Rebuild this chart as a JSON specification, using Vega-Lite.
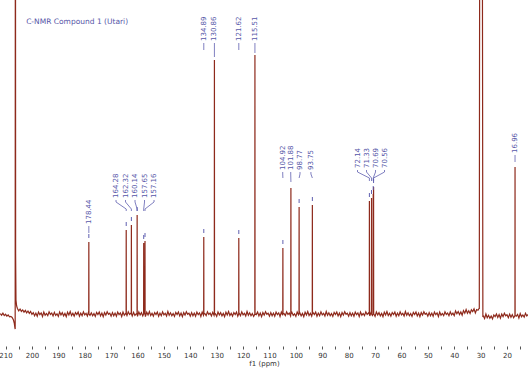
{
  "$schema": "https://vega.github.io/schema/vega-lite/v6.json",
  "width": 528,
  "height": 346,
  "autosize": {"type": "none"},
  "padding": {"left": 0, "top": 0, "right": 0, "bottom": 22},
  "background": "white",
  "config": {"view": {"stroke": null}, "axis": {"grid": false}},
  "datasets": {
    "spectrum": [
      {"ppm":212.0,"intensity":0.5},{"ppm":211.5,"intensity":-1.2},{"ppm":211.0,"intensity":0.8},{"ppm":210.5,"intensity":-1.6},{"ppm":210.0,"intensity":-0.3},{"ppm":209.5,"intensity":-2.2},{"ppm":209.0,"intensity":-1.0},{"ppm":208.5,"intensity":-2.8},{"ppm":208.0,"intensity":-2.4},{"ppm":207.5,"intensity":-3.5},{"ppm":207.0,"intensity":-6},{"ppm":206.7,"intensity":-9},{"ppm":206.45,"intensity":-14},{"ppm":206.35,"intensity":-15},{"ppm":206.26,"intensity":600},{"ppm":206.18,"intensity":60},{"ppm":206.05,"intensity":14},{"ppm":205.8,"intensity":8},{"ppm":205.5,"intensity":5.5},{"ppm":205.0,"intensity":3.2},{"ppm":204.5,"intensity":5.0},{"ppm":204.0,"intensity":2.6},{"ppm":203.5,"intensity":4.1},{"ppm":203.0,"intensity":1.9},{"ppm":202.5,"intensity":3.6},{"ppm":202.0,"intensity":1.2},{"ppm":201.5,"intensity":3.0},{"ppm":201.0,"intensity":0.6},{"ppm":200.5,"intensity":2.5},{"ppm":200.0,"intensity":-0.4},
      {"ppm":199.5,"intensity":1.4},{"ppm":199.0,"intensity":-1.8},{"ppm":198.5,"intensity":0.9},{"ppm":198.0,"intensity":-2.2},{"ppm":197.5,"intensity":1.9},{"ppm":197.0,"intensity":-0.7},{"ppm":196.5,"intensity":1.1},{"ppm":196.0,"intensity":-2.5},{"ppm":195.5,"intensity":2.0},{"ppm":195.0,"intensity":-1.2},{"ppm":194.5,"intensity":0.5},{"ppm":194.0,"intensity":-1.6},{"ppm":193.5,"intensity":2.3},{"ppm":193.0,"intensity":-0.4},{"ppm":192.5,"intensity":1.0},{"ppm":192.0,"intensity":-2.0},{"ppm":191.5,"intensity":1.7},{"ppm":191.0,"intensity":-1.4},{"ppm":190.5,"intensity":0.2},{"ppm":190.0,"intensity":-2.4},
      {"ppm":189.5,"intensity":2.1},{"ppm":189.0,"intensity":-0.9},{"ppm":188.5,"intensity":1.3},{"ppm":188.0,"intensity":-1.9},{"ppm":187.5,"intensity":0.6},{"ppm":187.0,"intensity":-2.6},{"ppm":186.5,"intensity":1.8},{"ppm":186.0,"intensity":-1.0},{"ppm":185.5,"intensity":2.4},{"ppm":185.0,"intensity":-1.5},{"ppm":184.5,"intensity":0.8},{"ppm":184.0,"intensity":-2.1},{"ppm":183.5,"intensity":1.5},{"ppm":183.0,"intensity":-0.5},{"ppm":182.5,"intensity":1.9},{"ppm":182.0,"intensity":-2.3},{"ppm":181.5,"intensity":0.9},{"ppm":181.0,"intensity":-1.7},{"ppm":180.5,"intensity":2.2},{"ppm":180.0,"intensity":-0.8},
      {"ppm":179.5,"intensity":0.7},{"ppm":179.0,"intensity":-2.0},{"ppm":178.5,"intensity":2.5},{"ppm":178.48,"intensity":0},{"ppm":178.44,"intensity":72},{"ppm":178.40,"intensity":0},{"ppm":178.0,"intensity":-1.3},{"ppm":177.5,"intensity":1.2},{"ppm":177.0,"intensity":-1.8},{"ppm":176.5,"intensity":0.4},{"ppm":176.0,"intensity":-2.4},{"ppm":175.5,"intensity":1.6},{"ppm":175.0,"intensity":-0.6},{"ppm":174.5,"intensity":2.0},{"ppm":174.0,"intensity":-1.9},{"ppm":173.5,"intensity":1.0},{"ppm":173.0,"intensity":-2.7},{"ppm":172.5,"intensity":1.4},{"ppm":172.0,"intensity":-1.1},{"ppm":171.5,"intensity":2.3},{"ppm":171.0,"intensity":-0.3},{"ppm":170.5,"intensity":0.8},{"ppm":170.0,"intensity":-2.2},
      {"ppm":169.5,"intensity":1.4},{"ppm":169.0,"intensity":-1.8},{"ppm":168.5,"intensity":0.9},{"ppm":168.0,"intensity":-2.2},{"ppm":167.5,"intensity":1.9},{"ppm":167.0,"intensity":-0.7},{"ppm":166.5,"intensity":1.1},{"ppm":166.0,"intensity":-2.5},{"ppm":165.5,"intensity":2.0},{"ppm":165.0,"intensity":-1.2},{"ppm":164.5,"intensity":0.5},{"ppm":164.32,"intensity":0},{"ppm":164.28,"intensity":84},{"ppm":164.24,"intensity":0},{"ppm":164.0,"intensity":-1.6},{"ppm":163.5,"intensity":2.3},{"ppm":163.0,"intensity":-0.4},{"ppm":162.5,"intensity":1.0},{"ppm":162.36,"intensity":0},{"ppm":162.32,"intensity":89},{"ppm":162.28,"intensity":0},{"ppm":162.0,"intensity":-2.0},{"ppm":161.5,"intensity":1.7},{"ppm":161.0,"intensity":-1.4},{"ppm":160.5,"intensity":0.2},{"ppm":160.18,"intensity":0},{"ppm":160.14,"intensity":99},{"ppm":160.10,"intensity":0},{"ppm":160.0,"intensity":-2.4},
      {"ppm":159.5,"intensity":2.1},{"ppm":159.0,"intensity":-0.9},{"ppm":158.5,"intensity":1.3},{"ppm":158.0,"intensity":-1.9},{"ppm":157.69,"intensity":0},{"ppm":157.65,"intensity":71},{"ppm":157.61,"intensity":0},{"ppm":157.5,"intensity":0.6},{"ppm":157.20,"intensity":0},{"ppm":157.16,"intensity":73},{"ppm":157.12,"intensity":0},{"ppm":157.0,"intensity":-2.6},{"ppm":156.5,"intensity":1.8},{"ppm":156.0,"intensity":-1.0},{"ppm":155.5,"intensity":2.4},{"ppm":155.0,"intensity":-1.5},{"ppm":154.5,"intensity":0.8},{"ppm":154.0,"intensity":-2.1},{"ppm":153.5,"intensity":1.5},{"ppm":153.0,"intensity":-0.5},{"ppm":152.5,"intensity":1.9},{"ppm":152.0,"intensity":-2.3},{"ppm":151.5,"intensity":0.9},{"ppm":151.0,"intensity":-1.7},{"ppm":150.5,"intensity":2.2},{"ppm":150.0,"intensity":-0.8},
      {"ppm":149.5,"intensity":0.7},{"ppm":149.0,"intensity":-2.0},{"ppm":148.5,"intensity":2.5},{"ppm":148.0,"intensity":-1.3},{"ppm":147.5,"intensity":1.2},{"ppm":147.0,"intensity":-1.8},{"ppm":146.5,"intensity":0.4},{"ppm":146.0,"intensity":-2.4},{"ppm":145.5,"intensity":1.6},{"ppm":145.0,"intensity":-0.6},{"ppm":144.5,"intensity":2.0},{"ppm":144.0,"intensity":-1.9},{"ppm":143.5,"intensity":1.0},{"ppm":143.0,"intensity":-2.7},{"ppm":142.5,"intensity":1.4},{"ppm":142.0,"intensity":-1.1},{"ppm":141.5,"intensity":2.3},{"ppm":141.0,"intensity":-0.3},{"ppm":140.5,"intensity":0.8},{"ppm":140.0,"intensity":-2.2},
      {"ppm":139.5,"intensity":1.4},{"ppm":139.0,"intensity":-1.8},{"ppm":138.5,"intensity":0.9},{"ppm":138.0,"intensity":-2.2},{"ppm":137.5,"intensity":1.9},{"ppm":137.0,"intensity":-0.7},{"ppm":136.5,"intensity":1.1},{"ppm":136.0,"intensity":-2.5},{"ppm":135.5,"intensity":2.0},{"ppm":135.0,"intensity":-1.2},{"ppm":134.93,"intensity":0},{"ppm":134.89,"intensity":77},{"ppm":134.85,"intensity":0},{"ppm":134.5,"intensity":0.5},{"ppm":134.0,"intensity":-1.6},{"ppm":133.5,"intensity":2.3},{"ppm":133.0,"intensity":-0.4},{"ppm":132.5,"intensity":1.0},{"ppm":132.0,"intensity":-2.0},{"ppm":131.5,"intensity":1.7},{"ppm":131.0,"intensity":-1.4},{"ppm":130.90,"intensity":0},{"ppm":130.86,"intensity":254},{"ppm":130.82,"intensity":0},{"ppm":130.5,"intensity":0.2},{"ppm":130.0,"intensity":-2.4},
      {"ppm":129.5,"intensity":2.1},{"ppm":129.0,"intensity":-0.9},{"ppm":128.5,"intensity":1.3},{"ppm":128.0,"intensity":-1.9},{"ppm":127.5,"intensity":0.6},{"ppm":127.0,"intensity":-2.6},{"ppm":126.5,"intensity":1.8},{"ppm":126.0,"intensity":-1.0},{"ppm":125.5,"intensity":2.4},{"ppm":125.0,"intensity":-1.5},{"ppm":124.5,"intensity":0.8},{"ppm":124.0,"intensity":-2.1},{"ppm":123.5,"intensity":1.5},{"ppm":123.0,"intensity":-0.5},{"ppm":122.5,"intensity":1.9},{"ppm":122.0,"intensity":-2.3},{"ppm":121.66,"intensity":0},{"ppm":121.62,"intensity":76},{"ppm":121.58,"intensity":0},{"ppm":121.5,"intensity":0.9},{"ppm":121.0,"intensity":-1.7},{"ppm":120.5,"intensity":2.2},{"ppm":120.0,"intensity":-0.8},
      {"ppm":119.5,"intensity":0.7},{"ppm":119.0,"intensity":-2.0},{"ppm":118.5,"intensity":2.5},{"ppm":118.0,"intensity":-1.3},{"ppm":117.5,"intensity":1.2},{"ppm":117.0,"intensity":-1.8},{"ppm":116.5,"intensity":0.4},{"ppm":116.0,"intensity":-2.4},{"ppm":115.55,"intensity":0},{"ppm":115.51,"intensity":259},{"ppm":115.47,"intensity":0},{"ppm":115.0,"intensity":-0.6},{"ppm":114.5,"intensity":2.0},{"ppm":114.0,"intensity":-1.9},{"ppm":113.5,"intensity":1.0},{"ppm":113.0,"intensity":-2.7},{"ppm":112.5,"intensity":1.4},{"ppm":112.0,"intensity":-1.1},{"ppm":111.5,"intensity":2.3},{"ppm":111.0,"intensity":-0.3},{"ppm":110.5,"intensity":0.8},{"ppm":110.0,"intensity":-2.2},
      {"ppm":109.5,"intensity":1.4},{"ppm":109.0,"intensity":-1.8},{"ppm":108.5,"intensity":0.9},{"ppm":108.0,"intensity":-2.2},{"ppm":107.5,"intensity":1.9},{"ppm":107.0,"intensity":-0.7},{"ppm":106.5,"intensity":1.1},{"ppm":106.0,"intensity":-2.5},{"ppm":105.5,"intensity":2.0},{"ppm":105.0,"intensity":-1.2},{"ppm":104.96,"intensity":0},{"ppm":104.92,"intensity":66},{"ppm":104.88,"intensity":0},{"ppm":104.5,"intensity":0.5},{"ppm":104.0,"intensity":-1.6},{"ppm":103.5,"intensity":2.3},{"ppm":103.0,"intensity":-0.4},{"ppm":102.5,"intensity":1.0},{"ppm":102.0,"intensity":-2.0},{"ppm":101.92,"intensity":0},{"ppm":101.88,"intensity":126},{"ppm":101.84,"intensity":0},{"ppm":101.5,"intensity":1.7},{"ppm":101.0,"intensity":-1.4},{"ppm":100.5,"intensity":0.2},{"ppm":100.0,"intensity":-2.4},
      {"ppm":99.5,"intensity":2.1},{"ppm":99.0,"intensity":-0.9},{"ppm":98.81,"intensity":0},{"ppm":98.77,"intensity":107},{"ppm":98.73,"intensity":0},{"ppm":98.5,"intensity":1.3},{"ppm":98.0,"intensity":-1.9},{"ppm":97.5,"intensity":0.6},{"ppm":97.0,"intensity":-2.6},{"ppm":96.5,"intensity":1.8},{"ppm":96.0,"intensity":-1.0},{"ppm":95.5,"intensity":2.4},{"ppm":95.0,"intensity":-1.5},{"ppm":94.5,"intensity":0.8},{"ppm":94.0,"intensity":-2.1},{"ppm":93.79,"intensity":0},{"ppm":93.75,"intensity":109},{"ppm":93.71,"intensity":0},{"ppm":93.5,"intensity":1.5},{"ppm":93.0,"intensity":-0.5},{"ppm":92.5,"intensity":1.9},{"ppm":92.0,"intensity":-2.3},{"ppm":91.5,"intensity":0.9},{"ppm":91.0,"intensity":-1.7},{"ppm":90.5,"intensity":2.2},{"ppm":90.0,"intensity":-0.8},
      {"ppm":89.5,"intensity":0.7},{"ppm":89.0,"intensity":-2.0},{"ppm":88.5,"intensity":2.5},{"ppm":88.0,"intensity":-1.3},{"ppm":87.5,"intensity":1.2},{"ppm":87.0,"intensity":-1.8},{"ppm":86.5,"intensity":0.4},{"ppm":86.0,"intensity":-2.4},{"ppm":85.5,"intensity":1.6},{"ppm":85.0,"intensity":-0.6},{"ppm":84.5,"intensity":2.0},{"ppm":84.0,"intensity":-1.9},{"ppm":83.5,"intensity":1.0},{"ppm":83.0,"intensity":-2.7},{"ppm":82.5,"intensity":1.4},{"ppm":82.0,"intensity":-1.1},{"ppm":81.5,"intensity":2.3},{"ppm":81.0,"intensity":-0.3},{"ppm":80.5,"intensity":0.8},{"ppm":80.0,"intensity":-2.2},
      {"ppm":79.5,"intensity":1.4},{"ppm":79.0,"intensity":-1.8},{"ppm":78.5,"intensity":0.9},{"ppm":78.0,"intensity":-2.2},{"ppm":77.5,"intensity":1.9},{"ppm":77.0,"intensity":-0.7},{"ppm":76.5,"intensity":1.1},{"ppm":76.0,"intensity":-2.5},{"ppm":75.5,"intensity":2.0},{"ppm":75.0,"intensity":-1.2},{"ppm":74.5,"intensity":0.5},{"ppm":74.0,"intensity":-1.6},{"ppm":73.5,"intensity":2.3},{"ppm":73.0,"intensity":-0.4},{"ppm":72.5,"intensity":1.0},{"ppm":72.18,"intensity":0},{"ppm":72.14,"intensity":113},{"ppm":72.10,"intensity":0},{"ppm":72.0,"intensity":-2.0},{"ppm":71.5,"intensity":1.7},{"ppm":71.37,"intensity":0},{"ppm":71.33,"intensity":116},{"ppm":71.29,"intensity":0},{"ppm":71.0,"intensity":-1.4},{"ppm":70.73,"intensity":0},{"ppm":70.69,"intensity":120},{"ppm":70.625,"intensity":10},{"ppm":70.56,"intensity":127},{"ppm":70.52,"intensity":0},{"ppm":70.5,"intensity":0.2},{"ppm":70.0,"intensity":-2.4},
      {"ppm":69.5,"intensity":2.1},{"ppm":69.0,"intensity":-0.9},{"ppm":68.5,"intensity":1.3},{"ppm":68.0,"intensity":-1.9},{"ppm":67.5,"intensity":0.6},{"ppm":67.0,"intensity":-2.6},{"ppm":66.5,"intensity":1.8},{"ppm":66.0,"intensity":-1.0},{"ppm":65.5,"intensity":2.4},{"ppm":65.0,"intensity":-1.5},{"ppm":64.5,"intensity":0.8},{"ppm":64.0,"intensity":-2.1},{"ppm":63.5,"intensity":1.5},{"ppm":63.0,"intensity":-0.5},{"ppm":62.5,"intensity":1.9},{"ppm":62.0,"intensity":-2.3},{"ppm":61.5,"intensity":0.9},{"ppm":61.0,"intensity":-1.7},{"ppm":60.5,"intensity":2.2},{"ppm":60.0,"intensity":-0.8},
      {"ppm":59.5,"intensity":0.7},{"ppm":59.0,"intensity":-2.0},{"ppm":58.5,"intensity":2.5},{"ppm":58.0,"intensity":-1.3},{"ppm":57.5,"intensity":1.2},{"ppm":57.0,"intensity":-1.8},{"ppm":56.5,"intensity":0.4},{"ppm":56.0,"intensity":-2.4},{"ppm":55.5,"intensity":1.6},{"ppm":55.0,"intensity":-0.6},{"ppm":54.5,"intensity":2.0},{"ppm":54.0,"intensity":-1.9},{"ppm":53.5,"intensity":1.0},{"ppm":53.0,"intensity":-2.7},{"ppm":52.5,"intensity":1.4},{"ppm":52.0,"intensity":-1.1},{"ppm":51.5,"intensity":2.3},{"ppm":51.0,"intensity":-0.3},{"ppm":50.5,"intensity":0.8},{"ppm":50.0,"intensity":-2.2},
      {"ppm":49.5,"intensity":1.4},{"ppm":49.0,"intensity":-1.8},{"ppm":48.5,"intensity":0.9},{"ppm":48.0,"intensity":-2.2},{"ppm":47.5,"intensity":1.9},{"ppm":47.0,"intensity":-0.7},{"ppm":46.5,"intensity":1.1},{"ppm":46.0,"intensity":-2.5},{"ppm":45.5,"intensity":2.0},{"ppm":45.0,"intensity":-1.2},{"ppm":44.5,"intensity":0.5},{"ppm":44.0,"intensity":-1.6},{"ppm":43.5,"intensity":2.3},{"ppm":43.0,"intensity":-0.4},{"ppm":42.5,"intensity":1.0},{"ppm":42.0,"intensity":-1.7},{"ppm":41.5,"intensity":2.2},{"ppm":41.0,"intensity":-0.8},{"ppm":40.5,"intensity":0.8},{"ppm":40.0,"intensity":-1.7},
      {"ppm":39.5,"intensity":3.1},{"ppm":39.0,"intensity":0.2},{"ppm":38.5,"intensity":2.5},{"ppm":38.0,"intensity":-0.6},{"ppm":37.5,"intensity":2.0},{"ppm":37.0,"intensity":-1.1},{"ppm":36.5,"intensity":3.4},{"ppm":36.0,"intensity":0.8},{"ppm":35.5,"intensity":4.4},{"ppm":35.0,"intensity":0.7},{"ppm":34.5,"intensity":3.2},{"ppm":34.0,"intensity":0.5},{"ppm":33.5,"intensity":4.3},{"ppm":33.0,"intensity":2.5},{"ppm":32.5,"intensity":5.1},{"ppm":32.0,"intensity":1.1},{"ppm":31.5,"intensity":4.5},{"ppm":31.0,"intensity":3.8},{"ppm":30.6,"intensity":5.5},{"ppm":30.5,"intensity":5},
      {"ppm":30.42,"intensity":237},{"ppm":30.23,"intensity":600},{"ppm":30.03,"intensity":600},{"ppm":29.84,"intensity":600},{"ppm":29.65,"intensity":600},{"ppm":29.46,"intensity":600},{"ppm":29.26,"intensity":226},{"ppm":29.15,"intensity":-3},
      {"ppm":29.0,"intensity":-1.8},{"ppm":28.5,"intensity":-4.5},{"ppm":28.0,"intensity":0},{"ppm":27.5,"intensity":-3.8},{"ppm":27.0,"intensity":-1.3},{"ppm":26.5,"intensity":-4.3},{"ppm":26.0,"intensity":-2.1},{"ppm":25.5,"intensity":-4.9},{"ppm":25.0,"intensity":-0.9},{"ppm":24.5,"intensity":-2.6},{"ppm":24.0,"intensity":0},{"ppm":23.5,"intensity":-3.4},{"ppm":23.0,"intensity":-0.5},{"ppm":22.5,"intensity":-4.2},{"ppm":22.0,"intensity":-0.1},{"ppm":21.5,"intensity":-2.6},{"ppm":21.0,"intensity":0.8},{"ppm":20.5,"intensity":-1.8},{"ppm":20.0,"intensity":-0.7},{"ppm":19.5,"intensity":-3.7},{"ppm":19.0,"intensity":-0.1},{"ppm":18.5,"intensity":-3.3},{"ppm":18.0,"intensity":-0.6},{"ppm":17.5,"intensity":-3.7},{"ppm":16.99,"intensity":-1.5},{"ppm":16.96,"intensity":147},{"ppm":16.93,"intensity":-1.5},{"ppm":16.5,"intensity":-2.2},{"ppm":16.0,"intensity":-0.4},{"ppm":15.5,"intensity":-4.0},{"ppm":15.0,"intensity":0.5},{"ppm":14.5,"intensity":-2.7},{"ppm":14.0,"intensity":-1.0},{"ppm":13.5,"intensity":-3.1},{"ppm":13.0,"intensity":0.8},{"ppm":12.5,"intensity":-1.9},{"ppm":12.0,"intensity":-0.5}
    ],
    "labels": [
      {"label":"178.44","ppm":178.44,"intensity":90},
      {"label":"164.28","ppm":168.14,"intensity":116},
      {"label":"162.32","ppm":164.54,"intensity":116},
      {"label":"160.14","ppm":160.94,"intensity":116},
      {"label":"157.65","ppm":157.34,"intensity":116},
      {"label":"157.16","ppm":153.74,"intensity":116},
      {"label":"134.89","ppm":134.89,"intensity":273},
      {"label":"130.86","ppm":130.86,"intensity":273},
      {"label":"121.62","ppm":121.62,"intensity":273},
      {"label":"115.51","ppm":115.51,"intensity":273},
      {"label":"104.92","ppm":104.98,"intensity":144},
      {"label":"101.88","ppm":101.95,"intensity":144},
      {"label":"98.77","ppm":98.43,"intensity":144},
      {"label":"93.75","ppm":94.3,"intensity":144},
      {"label":"72.14","ppm":76.64,"intensity":146},
      {"label":"71.33","ppm":73.23,"intensity":146},
      {"label":"70.69","ppm":69.82,"intensity":146},
      {"label":"70.56","ppm":66.41,"intensity":146},
      {"label":"16.96","ppm":16.96,"intensity":161}
    ],
    "connectors": [
      {"peak":"178.44","step":1,"ppm":178.44,"intensity":88},{"peak":"178.44","step":2,"ppm":178.44,"intensity":81},
      {"peak":"164.28","step":1,"ppm":168.14,"intensity":114},{"peak":"164.28","step":2,"ppm":168.14,"intensity":112},{"peak":"164.28","step":3,"ppm":164.28,"intensity":105},{"peak":"164.28","step":4,"ppm":164.28,"intensity":103},
      {"peak":"162.32","step":1,"ppm":164.54,"intensity":114},{"peak":"162.32","step":2,"ppm":164.54,"intensity":112},{"peak":"162.32","step":3,"ppm":162.32,"intensity":105},{"peak":"162.32","step":4,"ppm":162.32,"intensity":103},
      {"peak":"160.14","step":1,"ppm":160.94,"intensity":114},{"peak":"160.14","step":2,"ppm":160.94,"intensity":112},{"peak":"160.14","step":3,"ppm":160.14,"intensity":105},{"peak":"160.14","step":4,"ppm":160.14,"intensity":103},
      {"peak":"157.65","step":1,"ppm":157.34,"intensity":114},{"peak":"157.65","step":2,"ppm":157.34,"intensity":112},{"peak":"157.65","step":3,"ppm":157.65,"intensity":105},{"peak":"157.65","step":4,"ppm":157.65,"intensity":103},
      {"peak":"157.16","step":1,"ppm":153.74,"intensity":114},{"peak":"157.16","step":2,"ppm":153.74,"intensity":112},{"peak":"157.16","step":3,"ppm":157.16,"intensity":105},{"peak":"157.16","step":4,"ppm":157.16,"intensity":103},
      {"peak":"134.89","step":1,"ppm":134.89,"intensity":271},{"peak":"134.89","step":2,"ppm":134.89,"intensity":264},
      {"peak":"130.86","step":1,"ppm":130.86,"intensity":271},{"peak":"130.86","step":2,"ppm":130.86,"intensity":257},
      {"peak":"121.62","step":1,"ppm":121.62,"intensity":271},{"peak":"121.62","step":2,"ppm":121.62,"intensity":264},
      {"peak":"115.51","step":1,"ppm":115.51,"intensity":271},{"peak":"115.51","step":2,"ppm":115.51,"intensity":261},
      {"peak":"104.92","step":1,"ppm":104.98,"intensity":142},{"peak":"104.92","step":2,"ppm":104.98,"intensity":140},{"peak":"104.92","step":3,"ppm":104.92,"intensity":136},
      {"peak":"101.88","step":1,"ppm":101.95,"intensity":142},{"peak":"101.88","step":2,"ppm":101.95,"intensity":140},{"peak":"101.88","step":3,"ppm":101.88,"intensity":132},
      {"peak":"98.77","step":1,"ppm":98.43,"intensity":142},{"peak":"98.77","step":2,"ppm":98.43,"intensity":140},{"peak":"98.77","step":3,"ppm":98.77,"intensity":136},
      {"peak":"93.75","step":1,"ppm":94.3,"intensity":142},{"peak":"93.75","step":2,"ppm":94.3,"intensity":140},{"peak":"93.75","step":3,"ppm":93.75,"intensity":136},
      {"peak":"72.14","step":1,"ppm":76.64,"intensity":144},{"peak":"72.14","step":2,"ppm":76.64,"intensity":142},{"peak":"72.14","step":3,"ppm":72.14,"intensity":136},{"peak":"72.14","step":4,"ppm":72.14,"intensity":133},
      {"peak":"71.33","step":1,"ppm":73.23,"intensity":144},{"peak":"71.33","step":2,"ppm":73.23,"intensity":142},{"peak":"71.33","step":3,"ppm":71.33,"intensity":136},{"peak":"71.33","step":4,"ppm":71.33,"intensity":133},
      {"peak":"70.69","step":1,"ppm":69.82,"intensity":144},{"peak":"70.69","step":2,"ppm":69.82,"intensity":142},{"peak":"70.69","step":3,"ppm":70.69,"intensity":136},{"peak":"70.69","step":4,"ppm":70.69,"intensity":133},
      {"peak":"70.56","step":1,"ppm":66.41,"intensity":144},{"peak":"70.56","step":2,"ppm":66.41,"intensity":142},{"peak":"70.56","step":3,"ppm":70.56,"intensity":136},{"peak":"70.56","step":4,"ppm":70.56,"intensity":133},
      {"peak":"16.96","step":1,"ppm":16.96,"intensity":159},{"peak":"16.96","step":2,"ppm":16.96,"intensity":152}
    ],
    "ticks": [
      {"ppm":178.44,"top":80,"bottom":76},
      {"ppm":164.28,"top":92,"bottom":88},
      {"ppm":162.32,"top":97,"bottom":93},
      {"ppm":160.14,"top":107,"bottom":103},
      {"ppm":157.65,"top":79,"bottom":75},
      {"ppm":157.16,"top":81,"bottom":77},
      {"ppm":134.89,"top":85,"bottom":81},
      {"ppm":121.62,"top":84,"bottom":80},
      {"ppm":104.92,"top":74,"bottom":70},
      {"ppm":98.77,"top":115,"bottom":111},
      {"ppm":93.75,"top":117,"bottom":113},
      {"ppm":72.14,"top":121,"bottom":117},
      {"ppm":71.33,"top":124,"bottom":120},
      {"ppm":70.69,"top":128,"bottom":124},
      {"ppm":70.56,"top":135,"bottom":131}
    ],
    "title": [
      {"text":"C-NMR Compound 1 (Utari)","ppm":202.2,"intensity":292}
    ]
  },
  "encoding": {
    "x": {
      "field": "ppm",
      "type": "quantitative",
      "scale": {"domain": [12.05, 212.1], "reverse": true, "nice": false, "zero": false},
      "axis": {
        "title": "f1 (ppm)",
        "values": [210,205,200,195,190,185,180,175,170,165,160,155,150,145,140,135,130,125,120,115,110,105,100,95,90,85,80,75,70,65,60,55,50,45,40,35,30,25,20,15],
        "labelExpr": "datum.value % 10 === 0 ? datum.label : ''",
        "format": "d",
        "domain": false,
        "grid": false,
        "tickSize": 3,
        "tickColor": "#555555",
        "tickWidth": 1,
        "labelFont": "DejaVu Sans",
        "labelFontSize": 7,
        "labelColor": "#333333",
        "labelPadding": 2,
        "labelFlush": false,
        "labelOverlap": false,
        "titleFont": "DejaVu Sans",
        "titleFontSize": 7,
        "titleFontWeight": "normal",
        "titleColor": "#333333",
        "titlePadding": 1
      }
    },
    "y": {
      "field": "intensity",
      "type": "quantitative",
      "scale": {"domain": [-32, 314], "nice": false, "zero": false},
      "axis": null
    }
  },
  "layer": [
    {
      "data": {"name": "spectrum"},
      "mark": {"type": "line", "color": "#8E2A1C", "strokeWidth": 1.2, "clip": true}
    },
    {
      "data": {"name": "ticks"},
      "mark": {"type": "rule", "color": "#6060B0", "strokeWidth": 1, "clip": true},
      "encoding": {
        "y": {"field": "top", "type": "quantitative"},
        "y2": {"field": "bottom"}
      }
    },
    {
      "data": {"name": "connectors"},
      "mark": {"type": "line", "color": "#6060B0", "strokeWidth": 0.8, "clip": true},
      "encoding": {
        "detail": {"field": "peak", "type": "nominal"},
        "order": {"field": "step", "type": "quantitative"}
      }
    },
    {
      "data": {"name": "labels"},
      "mark": {"type": "text", "angle": 270, "align": "left", "baseline": "middle", "font": "DejaVu Sans", "fontSize": 7, "color": "#5656A8"},
      "encoding": {"text": {"field": "label", "type": "nominal"}}
    },
    {
      "data": {"name": "title"},
      "mark": {"type": "text", "align": "left", "baseline": "middle", "font": "DejaVu Sans", "fontSize": 7.5, "color": "#5656A8"},
      "encoding": {"text": {"field": "text", "type": "nominal"}}
    }
  ]
}
